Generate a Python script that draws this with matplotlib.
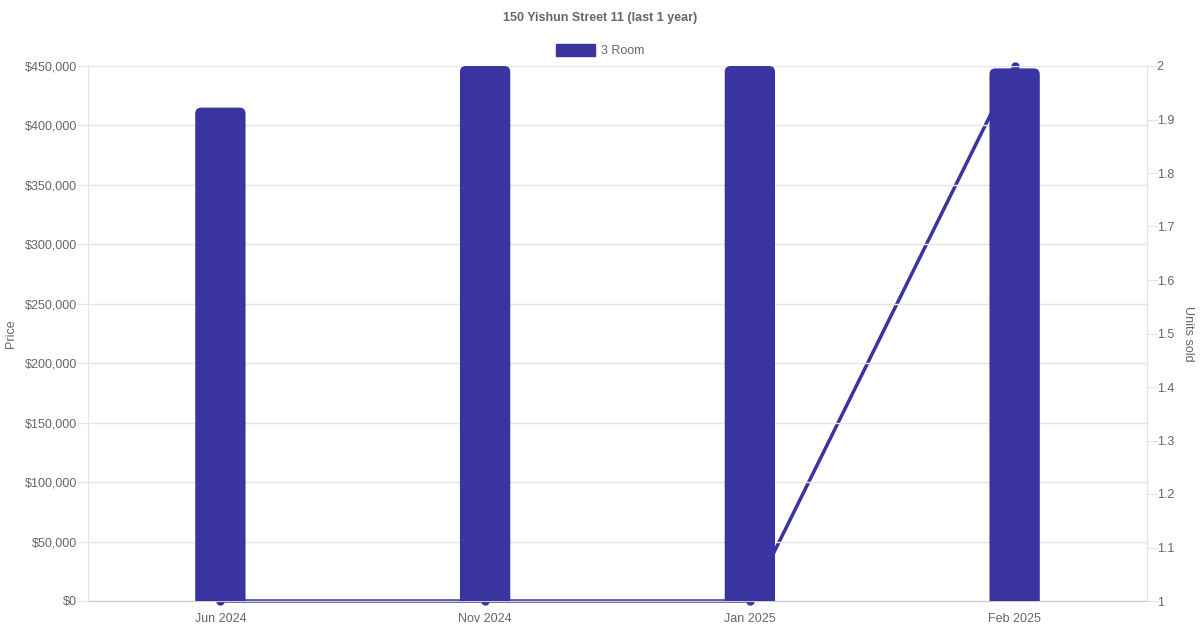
import matplotlib
matplotlib.use("Agg")
import matplotlib.pyplot as plt
from matplotlib.patches import FancyBboxPatch, Rectangle
from matplotlib.ticker import FuncFormatter, MultipleLocator

plt.rcParams['font.family'] = ['Liberation Sans', 'DejaVu Sans']

title = "150 Yishun Street 11 (last 1 year)"
months = ["Jun 2024", "Nov 2024", "Jan 2025", "Feb 2025"]
prices = [415000, 450000, 450000, 448000]
units_sold = [1, 1, 1, 2]
series_name = "3 Room"

color = "#3934a0"
grid_c = "#e5e5e5"
text_c = "#666666"

fig = plt.figure(figsize=(12, 6.3), dpi=100)
L, R, T, B = 88/1200, 1147/1200, 66/630, 601/630
ax = fig.add_axes([L, 1-B, R-L, B-T])
ax2 = ax.twinx()

x = list(range(len(months)))
ax.set_xlim(-0.5, len(months)-0.5)
ax.set_ylim(0, 450000)
ax2.set_ylim(1, 2)

# line on right axis drawn below bars
ax2.set_zorder(1)
ax.set_zorder(2)
ax.patch.set_visible(False)
ax2.plot(x, units_sold, color=color, lw=2.5, marker='o', ms=5, clip_on=False, zorder=3)

bars = ax.bar(x, prices, width=0.19, color=color)
# rounded top corners
ax_w_px = (R-L)*1200
ax_h_px = (B-T)*630
xu_per_px = (len(months))/ax_w_px
yu_per_px = 450000/ax_h_px
aspect = yu_per_px/xu_per_px
rad = 6*xu_per_px
for b in bars:
    bx, by, bw, bh = b.get_x(), b.get_y(), b.get_width(), b.get_height()
    b.set_visible(False)
    p = FancyBboxPatch((bx, by-10*yu_per_px), bw, bh+10*yu_per_px,
                       boxstyle=f"round,pad=0,rounding_size={rad}",
                       mutation_aspect=aspect, fc=color, ec='none',
                       zorder=3, clip_on=True)
    ax.add_patch(p)

ax.yaxis.set_major_locator(MultipleLocator(50000))
ax.yaxis.set_major_formatter(FuncFormatter(lambda v, p: f"${v:,.0f}"))
ax2.yaxis.set_major_locator(MultipleLocator(0.1))
ax2.yaxis.set_major_formatter(FuncFormatter(lambda v, p: f"{v:.1f}".rstrip('0').rstrip('.')))
ax.set_xticks(x)
ax.set_xticklabels(months)

ax.grid(axis='y', color=grid_c, lw=1)
ax.set_axisbelow(True)
for a in (ax, ax2):
    for s in a.spines.values():
        s.set_color(grid_c)
    a.spines['top'].set_visible(False)
ax.spines['bottom'].set_color("#cccccc")
ax.tick_params(axis='y', colors=text_c, labelsize=9, length=8, color=grid_c, pad=0)
ax2.tick_params(axis='y', colors=text_c, labelsize=9, length=8, color=grid_c, pad=-1)
ax.tick_params(axis='x', colors=text_c, labelsize=9, length=0, pad=9)
ax.set_ylabel("Price", color=text_c, fontsize=9, va='center')
ax.yaxis.set_label_coords((11-88)/ax_w_px, 0.5)
ax2.set_ylabel("Units sold", color=text_c, fontsize=9, rotation=270, va='center')
ax2.yaxis.set_label_coords((1188-88)/ax_w_px, 0.5)

fig.text(0.5, 1-17.5/630, title, ha='center', va='center', fontsize=9,
         fontweight='bold', color=text_c)
# legend
lx, ly = 556/1200, 1-50/630
fig.patches.append(Rectangle((lx, ly-6/630), 39/1200, 12/630, transform=fig.transFigure,
                             fc=color, ec=color, figure=fig))
fig.text(601/1200, ly-1/630, series_name, ha='left', va='center', fontsize=9, color=text_c)

fig.savefig("out.png", dpi=100)
